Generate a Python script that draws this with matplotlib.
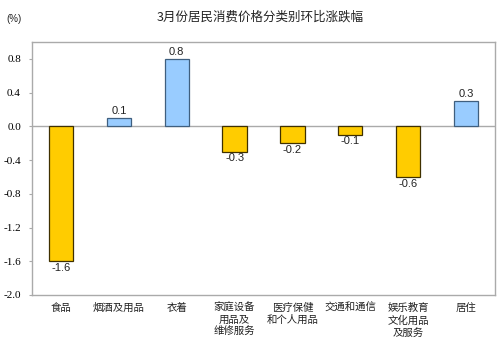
import matplotlib
matplotlib.use("Agg")
import matplotlib.pyplot as plt

categories = ["食品", "烟酒及用品", "衣着", "家庭设备\n用品及\n维修服务", "医疗保健\n和个人用品",
              "交通和通信", "娱乐教育\n文化用品\n及服务", "居住"]
values = [-1.6, 0.1, 0.8, -0.3, -0.2, -0.1, -0.6, 0.3]
yticks = [-2.0, -1.6, -1.2, -0.8, -0.4, 0.0, 0.4, 0.8]

cjk = ["Noto Sans CJK SC", "DejaVu Sans"]

fig = plt.figure(figsize=(5, 3.49), dpi=100)
ax = fig.add_axes([32/500, 1-295/349, 463/500, 253/349])

x = list(range(len(values)))
for xi, v in zip(x, values):
    if v >= 0:
        fc, ec = "#99CCFF", "#3F5F7F"
    else:
        fc, ec = "#FFCC00", "#3F3000"
    ax.bar(xi, v, width=0.42, color=fc, edgecolor=ec, linewidth=0.9, zorder=3)
    off = 0.02 if v >= 0 else -0.02
    ax.text(xi, v + off, f"{v:.1f}", ha="center", va="bottom" if v >= 0 else "top",
            fontsize=8, family="Liberation Sans", color="#222222")

ax.axhline(0, color="#AAAAAA", linewidth=1, zorder=2)
ax.set_xlim(-0.5, len(values) - 0.5)
ax.set_ylim(-2.0, 1.0)
ax.set_yticks(yticks)
ax.set_yticklabels([f"{t:.1f}" for t in yticks], family="Liberation Serif", fontsize=8)
ax.tick_params(axis="y", length=2, color="#AAAAAA", pad=6)
ax.set_xticks([])
for s in ax.spines.values():
    s.set_color("#AAAAAA")
    s.set_linewidth(1)

for xi, c in zip(x, categories):
    fig.text((32 + 463 * (xi + 0.5) / 8) / 500, 1 - 303/349, c, ha="center", va="top",
             fontsize=7.5, family=cjk, color="#222222", linespacing=1.25)

fig.text(0.5 + 0.02, 1 - 17/349, "3月份居民消费价格分类别环比涨跌幅", ha="center", va="center",
         fontsize=9, family=cjk, color="#222222")
fig.text(14/500, 1 - 19/349, "(%)", ha="center", va="center", fontsize=7,
         family="Liberation Sans", color="#222222")

fig.savefig("out.png", dpi=100)
